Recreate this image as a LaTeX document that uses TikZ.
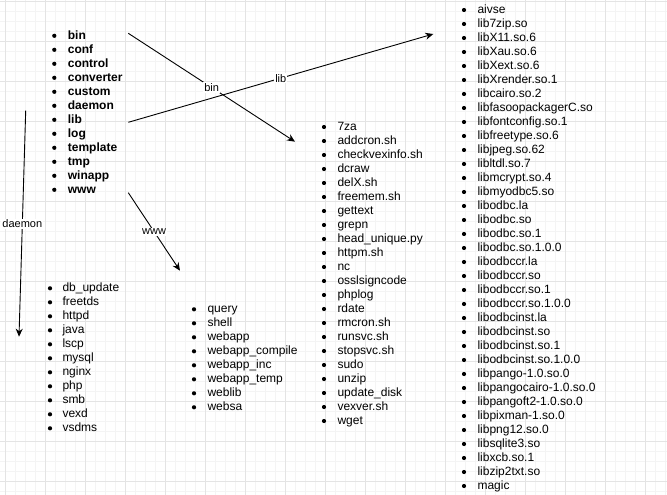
\documentclass[tikz,border=0pt]{standalone}
\usepackage{fontspec}
\setmainfont{Liberation Sans}
\usetikzlibrary{arrows.meta}
\definecolor{gridminor}{HTML}{F4F4F4}
\definecolor{gridmajor}{HTML}{E4E4E4}
\begin{document}
\begin{tikzpicture}[x=1pt,y=-1pt,
  item/.style={anchor=base west, inner sep=0pt, font=\fontsize{12}{14}\selectfont},
  bolditem/.style={anchor=base west, inner sep=0pt, font=\fontsize{12}{14}\selectfont\bfseries},
  dot/.style={circle, fill=black, inner sep=0pt, minimum size=4.2pt},
  conn/.style={-{Stealth[length=8pt,width=7pt]}, line width=0.9pt},
  elabel/.style={fill=white, inner sep=1pt, font=\fontsize{11}{12}\selectfont}]
\useasboundingbox (0,0) rectangle (667,495);
\fill[white] (0,0) rectangle (667,495);
% grid
\foreach \k in {0,...,66} \draw[gridminor, line width=0.8pt] (5.7+10*\k,0) -- (5.7+10*\k,495);
\foreach \k in {0,...,49} \draw[gridminor, line width=0.8pt] (0,1.7+10*\k) -- (667,1.7+10*\k);
\foreach \k in {0,...,16} \draw[gridmajor, line width=0.8pt] (5.7+40*\k,0) -- (5.7+40*\k,495);
\foreach \k in {0,...,12} \draw[gridmajor, line width=0.8pt] (0,1.7+40*\k) -- (667,1.7+40*\k);
% top list
\foreach \t [count=\i from 0] in {bin,conf,control,converter,custom,daemon,lib,log,template,tmp,winapp,www} {
  \node[bolditem] (top\i) at (67.7,39.3+14*\i) {\t};
  \node[dot] (topb\i) at (54.3,35.8+14*\i) {};
}
% daemon list
\foreach \t [count=\i from 0] in {db\_update,freetds,httpd,java,lscp,mysql,nginx,php,smb,vexd,vsdms} {
  \node[item] (dae\i) at (62.3,291.8+14*\i) {\t};
  \node[dot] (daeb\i) at (50,288.3+14*\i) {};
}
% www list
\foreach \t [count=\i from 0] in {query,shell,webapp,webapp\_compile,webapp\_inc,webapp\_temp,weblib,websa} {
  \node[item] (www\i) at (207.3,312.8+14*\i) {\t};
  \node[dot] (wwwb\i) at (194,309.3+14*\i) {};
}
% bin list
\foreach \t [count=\i from 0] in {7za,addcron.sh,checkvexinfo.sh,dcraw,delX.sh,freemem.sh,gettext,grepn,head\_unique.py,httpm.sh,nc,osslsigncode,phplog,rdate,rmcron.sh,runsvc.sh,stopsvc.sh,sudo,unzip,update\_disk,vexver.sh,wget} {
  \node[item] (bin\i) at (337.3,130.5+14*\i) {\t};
  \node[dot] (binb\i) at (324,127+14*\i) {};
}
% lib list
\foreach \t [count=\i from 0] in {aivse,lib7zip.so,libX11.so.6,libXau.so.6,libXext.so.6,libXrender.so.1,libcairo.so.2,libfasoopackagerC.so,libfontconfig.so.1,libfreetype.so.6,libjpeg.so.62,libltdl.so.7,libmcrypt.so.4,libmyodbc5.so,libodbc.la,libodbc.so,libodbc.so.1,libodbc.so.1.0.0,libodbccr.la,libodbccr.so,libodbccr.so.1,libodbccr.so.1.0.0,libodbcinst.la,libodbcinst.so,libodbcinst.so.1,libodbcinst.so.1.0.0,libpango-1.0.so.0,libpangocairo-1.0.so.0,libpangoft2-1.0.so.0,libpixman-1.so.0,libpng12.so.0,libsqlite3.so,libxcb.so.1,libzip2txt.so,magic} {
  \node[item] (lib\i) at (477.3,13.5+14*\i) {\t};
  \node[dot] (libb\i) at (464,10+14*\i) {};
}
% connectors
\coordinate (binS) at (128.3,33.3);
\coordinate (binE) at (295,141.7);
\coordinate (libS) at (128.3,122.3);
\coordinate (libE) at (433.3,34);
\coordinate (daeS) at (25.7,110.7);
\coordinate (daeE) at (19,336.7);
\coordinate (wwwS) at (128.3,192.7);
\coordinate (wwwE) at (180,270.7);
\draw[conn] (binS) -- node[elabel] {bin} (binE);
\draw[conn] (libS) -- node[elabel] {lib} (libE);
\draw[conn] (daeS) -- node[elabel] {daemon} (daeE);
\draw[conn] (wwwS) -- node[elabel] {www} (wwwE);
\end{tikzpicture}
\end{document}
